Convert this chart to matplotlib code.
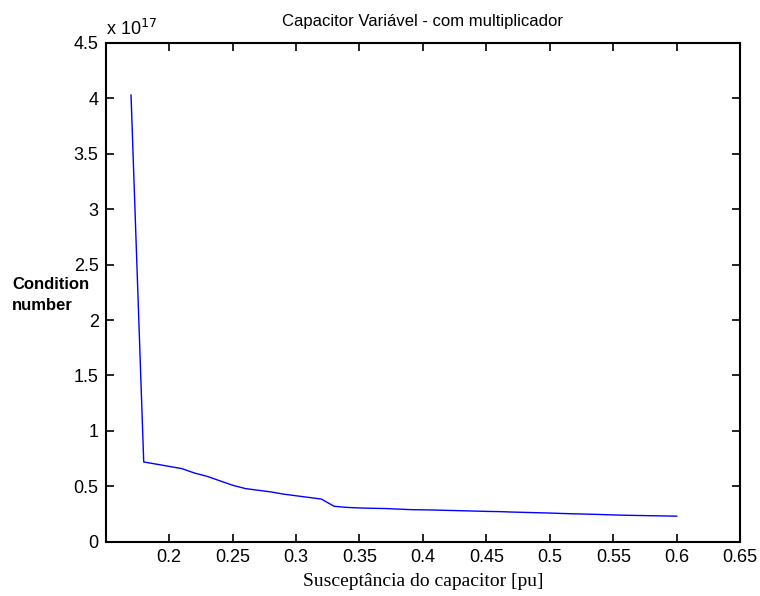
import numpy as np
import matplotlib.pyplot as plt

# data, values (condition number in units of 1e17)
susceptance = [0.17, 0.18, 0.19, 0.20, 0.21, 0.22, 0.23, 0.24, 0.25, 0.26,
               0.27, 0.28, 0.29, 0.30, 0.31, 0.32, 0.33, 0.34, 0.35, 0.36,
               0.37, 0.38, 0.39, 0.40, 0.41, 0.42, 0.43, 0.44, 0.45, 0.46,
               0.47, 0.48, 0.49, 0.50, 0.51, 0.52, 0.53, 0.54, 0.55, 0.56,
               0.57, 0.58, 0.59, 0.60]
cond_number = [4.03, 0.72, 0.70, 0.68, 0.66, 0.62, 0.59, 0.55, 0.51, 0.48,
               0.465, 0.45, 0.43, 0.415, 0.40, 0.385, 0.32, 0.31, 0.305, 0.302,
               0.30, 0.295, 0.29, 0.288, 0.286, 0.283, 0.28, 0.277, 0.274, 0.272,
               0.268, 0.265, 0.262, 0.259, 0.255, 0.252, 0.249, 0.246, 0.242, 0.239,
               0.237, 0.235, 0.233, 0.231]

xticks = [0.2, 0.25, 0.3, 0.35, 0.4, 0.45, 0.5, 0.55, 0.6, 0.65]
yticks = [0, 0.5, 1, 1.5, 2, 2.5, 3, 3.5, 4, 4.5]

fig = plt.figure(figsize=(7.6, 5.96), dpi=100)
ax = fig.add_axes([0.139, 0.091, 0.835, 0.837])

ax.plot(susceptance, cond_number, color=(0, 0, 1), linewidth=1.0)

ax.set_xlim(0.15, 0.65)
ax.set_ylim(0, 4.5)
ax.set_xticks(xticks)
ax.set_xticklabels([f"{t:g}" for t in xticks])
ax.set_yticks(yticks)
ax.set_yticklabels([f"{t:g}" for t in yticks])

ax.tick_params(direction="in", length=6, width=1.2, top=True, right=True,
               labelsize=13, pad=5)
for lab in ax.get_xticklabels() + ax.get_yticklabels():
    lab.set_fontfamily("Liberation Sans")
for s in ax.spines.values():
    s.set_linewidth(1.5)

ax.set_title("Capacitor Variável - com multiplicador", fontsize=12,
             family="Liberation Sans", pad=12)
ax.set_xlabel("Susceptância do capacitor [pu]", fontsize=14,
              family="Liberation Serif", labelpad=5)

fig.text(0.016, 0.505, "Condition\nnumber", fontsize=12, fontweight="bold",
         family="Liberation Sans", ha="left", va="center", linespacing=1.45)
ax.text(0.0, 1.008, r"x 10$^{17}$", transform=ax.transAxes, fontsize=13,
        family="Liberation Sans", ha="left", va="bottom")

plt.savefig("out.png", dpi=100)
